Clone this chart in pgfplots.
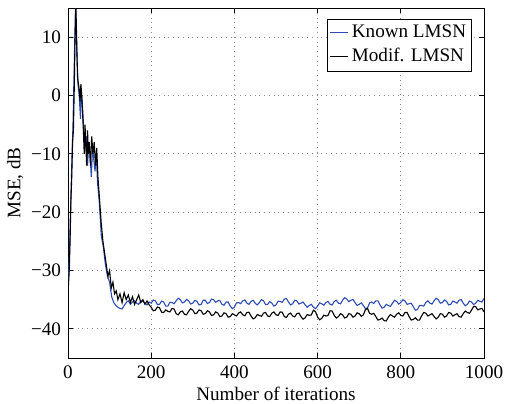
\documentclass[border=0pt]{standalone}
\usepackage{fontspec}
\setmainfont{Liberation Serif}
\usepackage{pgfplots}
\pgfplotsset{compat=1.18}
\definecolor{knownblue}{RGB}{45,75,180}

\begin{document}
\begin{tikzpicture}
\begin{axis}[
    scale only axis,
    width=208bp, height=175bp,
    xmin=0, xmax=1000, ymin=-45, ymax=15,
    xtick={0,200,400,600,800,1000},
    xticklabels={0,200,400,600,800,1000},
    ytick={-40,-30,-20,-10,0,10},
    yticklabels={−40,−30,−20,−10,0,10},
    tick align=inside,
    tick style={black, thin},
    major tick length=2.5bp,
    xmajorgrids, ymajorgrids,
    grid style={dotted, gray!90},
    axis line style={black, thin},
    xlabel={Number of iterations},
    ylabel={MSE, dB},
    label style={font=\fontsize{9.6}{11}\selectfont},
    xlabel style={yshift=3bp},
    ylabel style={yshift=-3bp},
    tick label style={font=\fontsize{9.6}{11}\selectfont},
    xticklabel style={yshift=-0.5bp},
    legend cell align=left,
    legend pos=north east,
    legend style={draw=black, thin, inner sep=1pt,
        font=\fontsize{9.6}{11}\selectfont,
        nodes={inner xsep=1.5pt}},
    legend image code/.code={\draw[#1, line width=0.7pt] (0cm,0cm) -- (0.32cm,0cm);},
]
\addplot[line width=0.55pt, knownblue] coordinates {
(0,-33)(3,-28)(6,-20)(9,-12)(12,-5)(15,5)(18,15.5)(21,8)(24,2)(27,0)(30,-4)(32,1)(35,-2)(38,-6)(41,-9)(44,-7)(47,-12)(50,-8)(53,-10)(56,-14)(59,-9)(62,-11)(65,-13)(68,-10)(71,-15)(75,-18)(80,-24)(85,-26)(90,-29)(95,-31)(100,-32)(105,-34.5)(110,-35.5)(115,-36)(120,-36.3)(125,-36.5)(130,-36.6)(135,-36)(140,-35.5)(145,-35.2)(150,-35.8)(155,-35.4)(160,-35.2)(165,-35.6)(170,-35.8)(175,-35.2)(180,-35.3)(185,-35.6)(190,-35.9)(195,-35.4)
(200,-35.6)(205,-35.05)(210,-35.2)(215,-35.85)(220,-35.8)(225,-35.25)(230,-35.4)(235,-36.1)(240,-36.1)(245,-35.45)(250,-35.5)(255,-35.7)(260,-35.2)(265,-34.75)(270,-35.0)(275,-35.55)(280,-35.4)(285,-34.95)(290,-35.2)(295,-35.75)
(300,-35.6)(305,-35.1)(310,-35.3)(315,-35.9)(320,-35.8)(325,-35.1)(330,-35.1)(335,-35.65)(340,-35.5)(345,-34.9)(350,-35.0)(355,-35.45)(360,-35.2)(365,-35.15)(370,-35.8)(375,-35.95)(380,-35.4)(385,-35.4)(390,-36.1)(395,-36.55)
(400,-36.3)(405,-35.55)(410,-35.5)(415,-35.7)(420,-35.2)(425,-35.05)(430,-35.6)(435,-35.8)(440,-35.3)(445,-35.1)(450,-35.6)(455,-35.9)(460,-35.5)(465,-35.0)(470,-35.2)(475,-35.85)(480,-35.8)(485,-35.35)(490,-35.6)(495,-36.1)
(500,-35.9)(505,-35.25)(510,-35.3)(515,-35.45)(520,-34.9)(525,-34.8)(530,-35.4)(535,-35.9)(540,-35.7)(545,-35.1)(550,-35.2)(555,-35.75)(560,-35.6)(565,-35.4)(570,-35.9)(575,-36.3)(580,-36.0)(585,-35.8)(590,-36.3)(595,-36.55)
(600,-36.1)(605,-35.55)(610,-35.7)(615,-35.95)(620,-35.5)(625,-35.3)(630,-35.8)(635,-35.9)(640,-35.3)(645,-35.1)(650,-35.6)(655,-35.7)(660,-35.1)(665,-34.65)(670,-34.9)(675,-35.35)(680,-35.1)(685,-34.95)(690,-35.5)(695,-36.0)
(700,-35.8)(705,-35.55)(710,-36.0)(715,-36.55)(720,-36.4)(725,-35.55)(730,-35.4)(735,-35.65)(740,-35.2)(745,-35.2)(750,-35.9)(755,-36.45)(760,-36.3)(765,-35.8)(770,-36.0)(775,-36.15)(780,-35.6)(785,-35.1)(790,-35.3)(795,-35.75)
(800,-35.5)(805,-35.0)(810,-35.2)(815,-35.8)(820,-35.7)(825,-35.6)(830,-36.2)(835,-36.8)(840,-36.7)(845,-36.0)(850,-36.0)(855,-36.1)(860,-35.5)(865,-35.2)(870,-35.6)(875,-35.75)(880,-35.2)(885,-34.75)(890,-35.0)(895,-35.6)
(900,-35.5)(905,-35.05)(910,-35.3)(915,-35.9)(920,-35.8)(925,-35.25)(930,-35.4)(935,-35.6)(940,-35.1)(945,-35.0)(950,-35.6)(955,-36.05)(960,-35.8)(965,-35.25)(970,-35.4)(975,-35.85)(980,-35.6)(985,-35.1)(990,-35.3)(995,-35.4)(1000,-34.8)
};
\addlegendentry{Known LMSN}
\addplot[line width=0.55pt, black] coordinates {
(0,-34)(3,-30)(5,-25)(7,-18)(9,-14)(11,-8)(13,-6)(15,1)(17,10)(19,15.5)(21,9)(23,3)(25,2)(27,1)(29,-1)(31,2)(33,0)(35,-3)(37,-6)(39,-10)(41,-5)(43,-9)(45,-12)(47,-6)(49,-10)(51,-8)(54,-12)(57,-7)(60,-10)(63,-8)(66,-12)(69,-9)(72,-14)(76,-18)(80,-22)(84,-25)(88,-27)(92,-29)(96,-31)(100,-30)(104,-33)(108,-32)(112,-34)(116,-33.5)(120,-35)(125,-34)(130,-35.5)(135,-33.8)(140,-35)(145,-34.2)(150,-35.5)(155,-34.5)(160,-35.8)(165,-35)(170,-34.2)(175,-35.5)(180,-35.0)(185,-35.8)(190,-35.2)(195,-35.9)
(200,-36.3)(205,-36.9)(210,-36.8)(215,-36.25)(220,-36.4)(225,-37.15)(230,-37.2)(235,-36.75)(240,-37.0)(245,-37.1)(250,-36.5)(255,-36.6)(260,-37.4)(265,-37.6)(270,-37.1)(275,-36.95)(280,-37.5)(285,-37.6)(290,-37.0)(295,-36.55)
(300,-36.8)(305,-37.4)(310,-37.3)(315,-36.75)(320,-36.9)(325,-37.5)(330,-37.4)(335,-36.9)(340,-37.1)(345,-37.7)(350,-37.6)(355,-37.1)(360,-37.3)(365,-37.9)(370,-37.8)(375,-37.25)(380,-37.4)(385,-38.0)(390,-37.9)(395,-37.4)
(400,-37.6)(405,-37.8)(410,-37.3)(415,-37.1)(420,-37.6)(425,-37.75)(430,-37.2)(435,-37.15)(440,-37.8)(445,-38.3)(450,-38.1)(455,-37.55)(460,-37.7)(465,-37.85)(470,-37.3)(475,-37.2)(480,-37.8)(485,-37.9)(490,-37.3)(495,-37.1)
(500,-37.6)(505,-37.7)(510,-37.1)(515,-37.15)(520,-37.9)(525,-38.05)(530,-37.5)(535,-37.3)(540,-37.8)(545,-37.95)(550,-37.4)(555,-37.3)(560,-37.9)(565,-38.35)(570,-38.1)(575,-37.55)(580,-37.7)(585,-37.6)(590,-36.8)(595,-37.05)
(600,-38.0)(605,-38.45)(610,-38.2)(615,-37.65)(620,-37.8)(625,-37.7)(630,-36.9)(635,-36.95)(640,-37.7)(645,-38.15)(650,-37.9)(655,-37.4)(660,-37.6)(665,-38.15)(670,-38.0)(675,-37.4)(680,-37.5)(685,-38.0)(690,-37.8)(695,-37.25)
(700,-37.4)(705,-37.85)(710,-37.6)(715,-36.7)(720,-36.5)(725,-37.35)(730,-37.5)(735,-37.35)(740,-37.9)(745,-38.5)(750,-38.4)(755,-38.15)(760,-38.6)(765,-38.65)(770,-38.0)(775,-37.55)(780,-37.8)(785,-38.0)(790,-37.5)(795,-37.25)
(800,-37.7)(805,-37.8)(810,-37.2)(815,-37.2)(820,-37.9)(825,-38.5)(830,-38.4)(835,-38.1)(840,-38.5)(845,-38.5)(850,-37.8)(855,-37.2)(860,-37.3)(865,-37.8)(870,-37.6)(875,-37.4)(880,-37.9)(885,-38.3)(890,-38.0)(895,-37.4)
(900,-37.5)(905,-38.0)(910,-37.8)(915,-37.2)(920,-37.3)(925,-37.8)(930,-37.6)(935,-37.4)(940,-37.9)(945,-38.0)(950,-37.4)(955,-36.95)(960,-37.2)(965,-37.35)(970,-36.8)(975,-36.15)(980,-36.2)(985,-36.75)(990,-36.6)(995,-36.5)(1000,-37.1)
};
\addlegendentry{Modif. LMSN}
\end{axis}
\pgfresetboundingbox
\path ([xshift=-34bp,yshift=-23bp]current axis.south west) rectangle ([xshift=11bp,yshift=4bp]current axis.north east);
\end{tikzpicture}
\end{document}
